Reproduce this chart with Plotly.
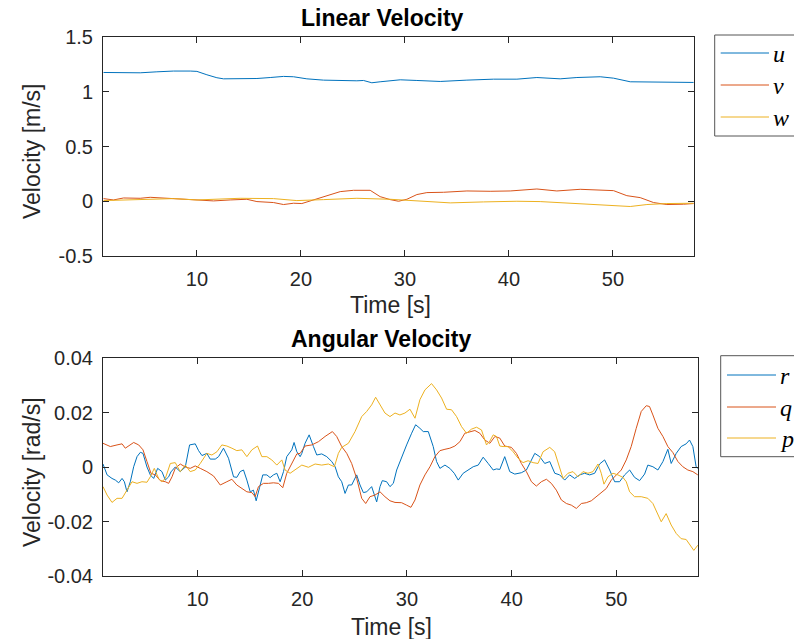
import plotly.graph_objects as go

# ---------------- data: Linear velocity ----------------
t_u = [1.02, 2.95, 4.55, 6.15, 7.75, 9.36, 10.00, 10.96, 11.92, 12.56, 14.16, 15.77, 17.05, 18.33,
       19.29, 20.57, 22.18, 23.78, 25.38, 26.02, 26.82, 27.62, 28.91,
       29.55, 31.15, 33.40, 35.96, 38.52, 40.77, 42.69, 44.93, 46.54, 48.78, 50.06, 51.67, 53.59,
       55.19, 56.79, 57.76]
u = [1.176, 1.173, 1.173, 1.182, 1.189, 1.189, 1.186, 1.155, 1.128, 1.118, 1.118, 1.121, 1.130, 1.140,
     1.137, 1.118, 1.106, 1.100, 1.100, 1.103, 1.082, 1.091, 1.106,
     1.109, 1.103, 1.094, 1.106, 1.115, 1.115, 1.130, 1.118, 1.130, 1.137, 1.124, 1.091, 1.088,
     1.088, 1.085, 1.085]

t_v = [1.02, 1.98, 2.95, 4.55, 5.51, 7.11, 9.03, 10.00, 11.60, 13.20, 14.80, 15.77, 17.37, 18.33,
       19.29, 20.09, 21.21, 22.50, 23.78, 25.06, 26.66, 27.62, 28.59, 29.39,
       30.19, 31.15, 32.11, 33.72, 35.96, 38.20, 40.13, 42.69, 44.61, 46.86, 49.42, 50.06, 51.34,
       52.63, 53.91, 55.19, 56.79, 57.76]
v = [0.024, 0.012, 0.030, 0.027, 0.036, 0.027, 0.018, 0.012, 0.003, 0.012, 0.018, -0.003, -0.012, -0.030,
     -0.018, -0.021, 0.012, 0.051, 0.088, 0.100, 0.100, 0.042, 0.015, 0.0,
     0.018, 0.061, 0.079, 0.082, 0.094, 0.091, 0.094, 0.112, 0.094, 0.109, 0.103, 0.097, 0.051,
     0.033, -0.012, -0.030, -0.027, -0.021]

t_w = [1.02, 4.55, 7.75, 10.00, 12.56, 14.16, 17.37, 19.61, 22.18, 25.38, 28.59,
       29.55, 32.11, 34.36, 37.56, 40.77, 43.01, 45.58, 48.78, 51.67, 53.27, 55.19, 57.76]
w = [0.006, 0.015, 0.024, 0.012, 0.021, 0.027, 0.024, 0.006, 0.015, 0.027, 0.018,
     0.012, -0.003, -0.015, -0.006, 0.0, -0.003, -0.015, -0.030, -0.048, -0.030, -0.021, -0.018]

# ---------------- data: Angular velocity ----------------
t_r = [0.97, 1.36, 1.83, 2.15, 2.47, 2.79, 3.01, 3.26, 3.58, 3.90, 4.22, 4.54, 4.79, 5.17, 5.49,
       5.81, 6.19, 6.60, 6.92, 7.24, 7.46, 7.87, 8.35, 8.83, 9.24, 9.78, 10.10, 10.42, 10.89, 11.21,
       11.69, 12.01, 12.48, 12.96, 13.44, 13.75, 14.07, 14.39, 14.71, 15.03, 15.34, 15.60, 15.92,
       16.23, 16.62, 16.93, 17.25, 17.57, 17.89, 18.21, 18.52, 19.00, 19.22, 19.48, 19.80,
       19.96, 20.27, 20.66, 21.07, 21.39, 21.86, 22.34, 22.82, 23.14, 23.45, 23.77, 24.09, 24.41,
       24.72, 25.20, 25.52, 25.84, 26.16, 26.63, 27.11, 27.43, 27.65, 28.06, 28.38, 28.70, 29.02,
       29.49, 29.97, 30.45, 30.83, 31.24, 31.56, 32.04, 32.51, 32.83, 33.15, 33.63, 34.10, 34.52,
       34.90, 35.37, 35.85, 36.33, 36.81, 37.28, 37.76, 38.24, 38.55, 38.87,
       39.34, 39.82, 40.30, 40.93, 41.41, 41.89, 42.21, 42.68, 43.16, 43.64, 44.12, 44.59, 45.07,
       45.54, 46.02, 46.50, 46.97, 47.45, 47.93, 48.40, 48.88, 49.36, 49.84, 50.31, 50.79, 51.27,
       51.74, 52.22, 52.70, 53.01, 53.49, 53.97, 54.45, 54.92, 55.24, 55.72, 56.19, 56.67, 56.99,
       57.31, 57.62, 57.78]
r = [0.0011, -0.0029, -0.0042, -0.0048, -0.0058, -0.0042, -0.0054, -0.0091, -0.0054, 0.0001, 0.0038,
     0.0054, 0.0050, 0.0, -0.0029, -0.0042, -0.0005, -0.0017, -0.0048, -0.0036, -0.0018, 0.0, -0.0017,
     0.0, 0.0081, 0.0085, 0.006, 0.0042, 0.005, 0.0029, 0.0029, 0.0038, 0.0069, 0.0032, -0.0036,
     -0.0038, -0.0017, -0.0011, -0.0048, -0.0091, -0.0085, -0.0124, -0.0076, -0.0029, -0.0029,
     -0.0039, -0.0029, -0.0023, -0.0054, -0.0017, 0.0038, 0.0063, 0.009, 0.0056, 0.0038,
     0.005, 0.0087, 0.0118, 0.0075, 0.0044, 0.0048, 0.0038, 0.002, 0.0001, -0.0036, -0.0054,
     -0.0097, -0.0066, -0.0066, -0.0029, -0.0066, -0.0094, -0.0091, -0.0072, -0.0128, -0.0072,
     -0.005, -0.0054, -0.0072, -0.006, -0.0011, 0.0038, 0.0081, 0.0124, 0.0155, 0.0142, 0.013,
     0.013, 0.0075, 0.002, -0.0005, 0.0007, -0.0005, -0.0023, -0.0048, -0.0023, -0.0011, 0.0001,
     0.0007, 0.0036, 0.0013, -0.0011, -0.0007, -0.0009,
     0.0038, -0.0017, -0.0026, -0.0021, -0.0011, 0.0026, 0.005, 0.0038, 0.0013, 0.002, -0.0023,
     -0.0029, -0.0048, -0.0029, -0.0042, -0.0029, -0.0023, -0.0029, -0.0023, 0.0011, 0.0026,
     -0.0011, -0.0054, -0.0054, -0.0029, -0.0011, -0.0038, -0.005, -0.0026, 0.0007, 0.0001,
     -0.0011, 0.002, 0.0065, 0.0013, 0.005, 0.0075, 0.0085, 0.0099, 0.0075, 0.0001, -0.0005]

t_q = [0.97, 1.67, 2.31, 2.79, 3.10, 3.42, 3.90, 4.38, 4.79, 5.17, 5.55, 5.97, 6.44, 6.92, 7.24,
       7.56, 7.87, 8.35, 8.83, 9.30, 9.78, 10.26, 10.89, 11.53, 12.17, 12.80, 13.28, 13.75, 14.23,
       14.71, 15.19, 15.50, 15.82, 16.30, 16.77, 17.25, 17.73, 18.14, 18.52, 19.00, 19.48, 19.80,
       20.27, 20.91, 21.55, 22.18, 22.88, 23.29, 23.77, 24.25, 24.72, 25.20, 25.68, 26.06, 26.47,
       26.95, 27.43, 27.90, 28.38, 28.86, 29.49, 29.97, 30.38, 30.77, 31.24, 31.72, 32.20, 32.67,
       33.15, 33.63, 34.10, 34.58, 35.06, 35.53, 36.01, 36.49, 36.96, 37.44, 37.92, 38.40, 38.87,
       39.34, 39.98, 40.46, 40.93, 41.41, 41.89, 42.36, 42.84, 43.32, 43.79, 44.27, 44.75, 45.23,
       45.70, 46.18, 46.66, 47.13, 47.61, 48.09, 48.56, 49.04, 49.52, 49.99, 50.47, 50.95, 51.42,
       51.90, 52.38, 52.86, 53.17, 53.49, 53.97, 54.45, 54.92, 55.40, 55.88, 56.35, 56.83, 57.31,
       57.78]
q = [0.0087, 0.0075, 0.0081, 0.0085, 0.0069, 0.0077, 0.009, 0.0081, 0.0063, 0.002, -0.0023, -0.0029,
     -0.005, -0.0054, -0.006, -0.0036, -0.0005, 0.0011, 0.0, -0.0005, 0.0004, -0.0005, -0.0017,
     -0.0033, -0.0066, -0.0054, -0.0045, -0.0066, -0.0079, -0.0091, -0.0094, -0.0109, -0.0072,
     -0.006, -0.006, -0.0058, -0.006, -0.0076, -0.0023, 0.0013, 0.0048, 0.005,
     0.0077, 0.0081, 0.0093, 0.0112, 0.013, 0.0112, 0.0075, 0.005, 0.0013, -0.0042, -0.0115,
     -0.0134, -0.0109, -0.0103, -0.0091, -0.0109, -0.0124, -0.013, -0.0131, -0.014, -0.0148,
     -0.0121, -0.0066, -0.0029, 0.0001, 0.0038, 0.006, 0.0065, 0.0069, 0.0077, 0.0093, 0.0124,
     0.013, 0.0134, 0.0124, 0.0099, 0.0087, 0.0112, 0.0106,
     0.0077, 0.0072, 0.005, 0.0013, -0.0017, -0.0054, -0.007, -0.0054, -0.0045, -0.006, -0.0085,
     -0.0121, -0.0134, -0.014, -0.0152, -0.0134, -0.0131, -0.0124, -0.0109, -0.0094, -0.0079,
     -0.0048, -0.0029, -0.0011, 0.0026, 0.0075, 0.0142, 0.0204, 0.0225, 0.0222, 0.0191, 0.0142,
     0.0112, 0.0075, 0.0053, 0.002, 0.0001, -0.0011, -0.0017, -0.0029]

t_p = [0.97, 1.36, 1.83, 2.31, 2.79, 3.26, 3.74, 4.22, 4.69, 5.17, 5.49, 5.87, 6.28, 6.60, 6.92,
       7.40, 7.87, 8.35, 8.83, 9.30, 9.78, 10.26, 10.89, 11.37, 11.85, 12.32, 12.80, 13.28, 13.75,
       14.23, 14.71, 15.19, 15.73, 16.14, 16.62, 17.09, 17.57, 18.05, 18.36, 18.84, 19.32, 19.80,
       19.96, 20.59, 21.23, 21.86, 22.50, 23.07, 23.45, 23.77, 24.41, 25.04, 25.68, 26.16, 26.63,
       27.01, 27.43, 27.90, 28.38, 28.86, 29.33, 29.81, 30.29, 30.77, 31.24, 31.72, 32.35, 32.83,
       33.31, 33.79, 34.26, 34.74, 35.22, 35.69, 36.17, 36.65, 37.12, 37.60, 37.92, 38.24, 38.55,
       38.87,
       39.18, 39.66, 40.14, 40.62, 41.09, 41.57, 42.05, 42.52, 43.00, 43.64, 44.11, 44.43, 44.91,
       45.38, 45.86, 46.34, 46.81, 47.29, 47.77, 48.25, 48.56, 48.82, 49.20, 49.68, 50.15, 50.63,
       50.95, 51.27, 51.74, 52.38, 53.01, 53.49, 53.97, 54.29, 54.76, 55.24, 55.72, 56.19, 56.67,
       57.15, 57.40, 57.78]
p = [-0.0072, -0.0103, -0.013, -0.0115, -0.0115, -0.0085, -0.0054, -0.006, -0.0054, -0.0056,
     -0.0036, -0.0005, -0.0042, -0.0054, -0.0042, 0.0013, 0.0016, -0.0017, 0.0007, -0.0017,
     -0.0011, 0.0013, 0.005, 0.0044, 0.0056, 0.0081, 0.0077, 0.0069, 0.006, 0.0063, 0.0038,
     0.0063, 0.0077, 0.0038, 0.0038, 0.0026, 0.0007, 0.0026, -0.0011, -0.0023, -0.0011, 0.0001,
     0.0007, -0.0001, 0.0011, 0.0007, 0.0011, 0.0001, 0.005, 0.0072, 0.0087, 0.013, 0.0185,
     0.0204, 0.0228, 0.0256, 0.0228, 0.0198, 0.0185, 0.0198, 0.0191, 0.0198, 0.0212, 0.0179,
     0.0247, 0.0283, 0.0306, 0.0283, 0.0253, 0.0212, 0.021, 0.0185, 0.0148, 0.0124, 0.0139,
     0.0146, 0.0136, 0.0081, 0.0095, 0.0118, 0.0112, 0.0077,
     0.0075, 0.0075, 0.0056, 0.0032, 0.0016, 0.0023, 0.0016, 0.0013, 0.0056, 0.0072, 0.0056,
     0.0013, -0.0042, -0.0023, -0.0017, -0.0036, -0.0017, -0.0023, -0.0017, 0.0011, -0.0023,
     -0.0063, -0.0036, -0.0023, -0.0029, -0.0038, -0.0054, -0.0091, -0.0109, -0.0109, -0.0115,
     -0.0134, -0.0171, -0.0201, -0.0171, -0.0213, -0.0244, -0.0263, -0.0266, -0.0293, -0.0306,
     -0.0287]

# ---------------- ticks / labels ----------------
x_ticks = [10, 20, 30, 40, 50]
x_ticktext = ["10", "20", "30", "40", "50"]
y1_ticks = [-0.5, 0, 0.5, 1, 1.5]
y1_ticktext = ["-0.5", "0", "0.5", "1", "1.5"]
y2_ticks = [-0.04, -0.02, 0, 0.02, 0.04]
y2_ticktext = ["-0.04", "-0.02", "0", "0.02", "0.04"]

top_names = ["u", "v", "w"]
bottom_names = ["r", "q", "p"]
colors = ["#0072BD", "#D95319", "#EDB120"]

# ---------------- layout geometry (pixels) ----------------
W, H = 794, 639
ML, MR, MT, MB = 103, 96, 37, 63
PW, PH = W - ML - MR, H - MT - MB


def fx(px):
    return (px - ML) / PW


def fy(py):
    return (H - MB - py) / PH


fig = go.Figure()
for (tx, yv, nm, col) in zip([t_u, t_v, t_w], [u, v, w], top_names, colors):
    fig.add_trace(go.Scatter(x=tx, y=yv, name=nm, mode="lines", line=dict(color=col, width=1),
                             xaxis="x", yaxis="y", showlegend=False))
for (tx, yv, nm, col) in zip([t_r, t_q, t_p], [r, q, p], bottom_names, colors):
    fig.add_trace(go.Scatter(x=tx, y=yv, name=nm, mode="lines", line=dict(color=col, width=1),
                             xaxis="x2", yaxis="y2", showlegend=False))

tickfont = dict(family="Liberation Sans, Arial, sans-serif", size=20, color="#262626")
axcommon = dict(showline=True, linecolor="#262626", linewidth=1, mirror="ticks", ticks="inside",
                ticklen=6, tickcolor="#262626", tickwidth=1, showgrid=False, zeroline=False,
                tickfont=tickfont)

fig.update_layout(
    width=W, height=H, paper_bgcolor="white", plot_bgcolor="white",
    margin=dict(l=ML, r=MR, t=MT, b=MB, autoexpand=False),
    xaxis=dict(domain=[0, fx(694)], range=[0.97, 57.8], tickvals=x_ticks, ticktext=x_ticktext,
               anchor="y", ticklabelstandoff=5, **axcommon),
    yaxis=dict(domain=[fy(256), fy(37)], range=[-0.5, 1.5], tickvals=y1_ticks, ticktext=y1_ticktext,
               anchor="x", ticklabelstandoff=5, **axcommon),
    xaxis2=dict(domain=[0, 1], range=[0.97, 57.8], tickvals=x_ticks, ticktext=x_ticktext,
                anchor="y2", ticklabelstandoff=5, **axcommon),
    yaxis2=dict(domain=[0, fy(358)], range=[-0.04, 0.04], tickvals=y2_ticks, ticktext=y2_ticktext,
                anchor="x2", ticklabelstandoff=5, **axcommon),
    showlegend=False,
)

textfont = dict(family="Liberation Sans, Arial, sans-serif", size=23, color="#262626")
titlefont = dict(family="Liberation Sans, Arial, sans-serif", size=23, color="black")
ann = []
ann.append(dict(text="<b>Linear Velocity</b>", x=fx(382), y=fy(18), xref="paper", yref="paper",
                showarrow=False, font=titlefont, xanchor="center", yanchor="middle"))
ann.append(dict(text="<b>Angular Velocity</b>", x=fx(381), y=fy(339), xref="paper", yref="paper",
                showarrow=False, font=titlefont, xanchor="center", yanchor="middle"))
ann.append(dict(text="Time [s]", x=fx(390), y=fy(305), xref="paper", yref="paper",
                showarrow=False, font=textfont, xanchor="center", yanchor="middle"))
ann.append(dict(text="Time [s]", x=fx(391), y=fy(627), xref="paper", yref="paper",
                showarrow=False, font=textfont, xanchor="center", yanchor="middle"))
ann.append(dict(text="Velocity [m/s]", x=fx(32), y=fy(152), xref="paper", yref="paper",
                showarrow=False, font=textfont, textangle=-90, xanchor="center", yanchor="middle"))
ann.append(dict(text="Velocity [rad/s]", x=fx(32), y=fy(472), xref="paper", yref="paper",
                showarrow=False, font=textfont, textangle=-90, xanchor="center", yanchor="middle"))

shapes = []
legfont = dict(family="Liberation Serif, DejaVu Serif, serif", size=24, color="black")


def add_legend(names, box_left, box_top, box_bottom, item_y, line_x0, line_x1, text_x):
    shapes.append(dict(type="rect", xref="paper", yref="paper", x0=fx(box_left), x1=fx(box_left + 200),
                       y0=fy(box_bottom), y1=fy(box_top), line=dict(color="#555555", width=1),
                       fillcolor="white", layer="above"))
    for nm, col, iy in zip(names, colors, item_y):
        shapes.append(dict(type="line", xref="paper", yref="paper", x0=fx(line_x0), x1=fx(line_x1),
                           y0=fy(iy), y1=fy(iy), line=dict(color=col, width=1), layer="above"))
        ann.append(dict(text="<i>%s</i>" % nm, x=fx(text_x), y=fy(iy + 1), xref="paper", yref="paper",
                        showarrow=False, font=legfont, xanchor="left", yanchor="middle"))


add_legend(top_names, 714.7, 35, 136, [53, 85, 117], 720.7, 769, 771)
add_legend(bottom_names, 720.7, 355.7, 456.7, [375, 407, 438], 727, 776, 778)

fig.update_layout(annotations=ann, shapes=shapes)
fig.write_html("out.html")
